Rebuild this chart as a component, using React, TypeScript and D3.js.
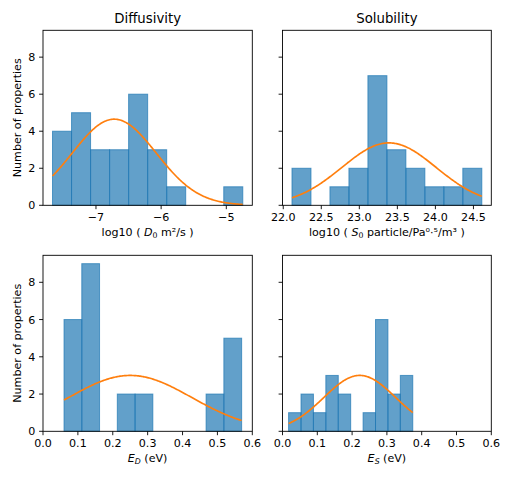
import React from "react";
import * as d3 from "d3";

// ---- data ----
const diffCounts = [4, 5, 3, 3, 6, 3, 1, 0, 0, 1];
const diffRange = [-7.667, -4.747];
const diffFit = [-6.72, 0.645, 4.65]; // mu, sigma, peak
const diffTicks = [-7, -6, -5];

const solCounts = [2, 0, 1, 2, 7, 3, 2, 1, 1, 2];
const solRange = [22.115, 24.61];
const solFit = [23.39, 0.62, 3.37];
const solTicks = [22.0, 22.5, 23.0, 23.5, 24.0, 24.5];

const edCounts = [6, 9, 0, 2, 2, 0, 0, 0, 2, 5];
const edRange = [0.0603, 0.5694];
const edFit = [0.25, 0.176, 3.0];

const esCounts = [1, 2, 1, 3, 2, 0, 1, 6, 2, 3];
const esRange = [0.0175, 0.3743];
const esFit = [0.222, 0.103, 3.0];

const energyTicks = [0.0, 0.1, 0.2, 0.3, 0.4, 0.5, 0.6];
const yTicks = [0, 2, 4, 6, 8];
const yMax = 9.45;

const FONT = "DejaVu Sans, sans-serif";
const FS = 11.1;
const TICK = 3.9;

type Panel = {
  x0: number; x1: number; y0: number; y1: number;
  counts: number[]; range: number[]; fit: number[];
  ticks: number[]; xlim?: number[]; fmt: (v: number) => string;
  title?: string; ylabel: boolean; yTickLabels: boolean; xlabel: React.ReactNode;
};

const minusFmt = (v: number) => (v < 0 ? "\u2212" + Math.abs(v) : String(v));
const oneDec = (v: number) => v.toFixed(1);

function PanelView({ p }: { p: Panel }) {
  const [lo, hi] = p.range;
  const R = hi - lo;
  const xlim = p.xlim ?? [lo - 0.05 * R, hi + 0.05 * R];
  const x = d3.scaleLinear().domain(xlim).range([p.x0, p.x1]);
  const y = d3.scaleLinear().domain([0, yMax]).range([p.y1, p.y0]);
  const n = p.counts.length;
  const bw = R / n;
  const [mu, sigma, peak] = p.fit;
  const pts = d3.range(0, 201).map((i) => {
    const xv = lo + (R * i) / 200;
    return [xv, peak * Math.exp(-0.5 * ((xv - mu) / sigma) ** 2)] as [number, number];
  });
  const line = d3.line<[number, number]>().x((d) => x(d[0])).y((d) => y(d[1]));
  const cx = (p.x0 + p.x1) / 2;
  const cy = (p.y0 + p.y1) / 2;
  return (
    <g>
      {p.counts.map((c, i) =>
        c > 0 ? (
          <rect
            key={i}
            x={x(lo + i * bw)}
            y={y(c)}
            width={x(lo + (i + 1) * bw) - x(lo + i * bw)}
            height={y(0) - y(c)}
            fill="#1f77b4"
            fillOpacity={0.7}
            stroke="#1f77b4"
            strokeOpacity={0.7}
            strokeWidth={1}
          />
        ) : null
      )}
      <path d={line(pts) ?? ""} fill="none" stroke="#ff7f0e" strokeWidth={1.67} />
      <rect x={p.x0} y={p.y0} width={p.x1 - p.x0} height={p.y1 - p.y0} fill="none" stroke="#000" strokeWidth={0.9} />
      {p.ticks.map((t) => (
        <g key={t}>
          <line x1={x(t)} x2={x(t)} y1={p.y1} y2={p.y1 + TICK} stroke="#000" strokeWidth={0.9} />
          <text x={x(t)} y={p.y1 + 16} textAnchor="middle" fontSize={FS} fontFamily={FONT}>
            {p.fmt(t)}
          </text>
        </g>
      ))}
      {yTicks.map((t) => (
        <g key={t}>
          <line x1={p.x0 - TICK} x2={p.x0} y1={y(t)} y2={y(t)} stroke="#000" strokeWidth={0.9} />
          {p.yTickLabels ? (
            <text x={p.x0 - 7.8} y={y(t)} dy="0.36em" textAnchor="end" fontSize={FS} fontFamily={FONT}>
              {t}
            </text>
          ) : null}
        </g>
      ))}
      {p.title ? (
        <text x={cx} y={p.y0 - 7} textAnchor="middle" fontSize={13.3} fontFamily={FONT}>
          {p.title}
        </text>
      ) : null}
      <text x={cx} y={p.y1 + 30.5} textAnchor="middle" fontSize={FS} fontFamily={FONT}>
        {p.xlabel}
      </text>
      {p.ylabel ? (
        <text
          transform={`translate(20.5,${cy}) rotate(-90)`}
          textAnchor="middle"
          fontSize={FS}
          fontFamily={FONT}
        >
          Number of properties
        </text>
      ) : null}
    </g>
  );
}

export default function App() {
  const top = [30.3, 205.3];
  const bot = [255.3, 431.3];
  const left = [43, 252.3];
  const right = [282.5, 491.3];
  const panels: Panel[] = [
    {
      x0: left[0], x1: left[1], y0: top[0], y1: top[1],
      counts: diffCounts, range: diffRange, fit: diffFit, ticks: diffTicks, fmt: minusFmt,
      title: "Diffusivity", ylabel: true, yTickLabels: true,
      xlabel: (
        <>
          log10 ( <tspan fontStyle="italic">D</tspan>
          <tspan fontSize={FS * 0.7} dy={2}>0</tspan>
          <tspan dy={-2}> m²/s )</tspan>
        </>
      ),
    },
    {
      x0: right[0], x1: right[1], y0: top[0], y1: top[1],
      counts: solCounts, range: solRange, fit: solFit, ticks: solTicks, fmt: oneDec,
      title: "Solubility", ylabel: false, yTickLabels: false,
      xlabel: (
        <>
          log10 ( <tspan fontStyle="italic">S</tspan>
          <tspan fontSize={FS * 0.7} dy={2}>0</tspan>
          <tspan dy={-2}> particle/Pa⁰·⁵/m³ )</tspan>
        </>
      ),
    },
    {
      x0: left[0], x1: left[1], y0: bot[0], y1: bot[1],
      counts: edCounts, range: edRange, fit: edFit, ticks: energyTicks, xlim: [0, 0.6], fmt: oneDec,
      ylabel: true, yTickLabels: true,
      xlabel: (
        <>
          <tspan fontStyle="italic">E</tspan>
          <tspan fontStyle="italic" fontSize={FS * 0.7} dy={2}>D</tspan>
          <tspan dy={-2}> (eV)</tspan>
        </>
      ),
    },
    {
      x0: right[0], x1: right[1], y0: bot[0], y1: bot[1],
      counts: esCounts, range: esRange, fit: esFit, ticks: energyTicks, xlim: [0, 0.6], fmt: oneDec,
      ylabel: false, yTickLabels: false,
      xlabel: (
        <>
          <tspan fontStyle="italic">E</tspan>
          <tspan fontStyle="italic" fontSize={FS * 0.7} dy={2}>S</tspan>
          <tspan dy={-2}> (eV)</tspan>
        </>
      ),
    },
  ];
  return (
    <svg width={512} height={480} style={{ position: "absolute", left: 0, top: 0, background: "#fff" }}>
      <rect width={512} height={480} fill="#fff" />
      {panels.map((p, i) => (
        <PanelView key={i} p={p} />
      ))}
    </svg>
  );
}
